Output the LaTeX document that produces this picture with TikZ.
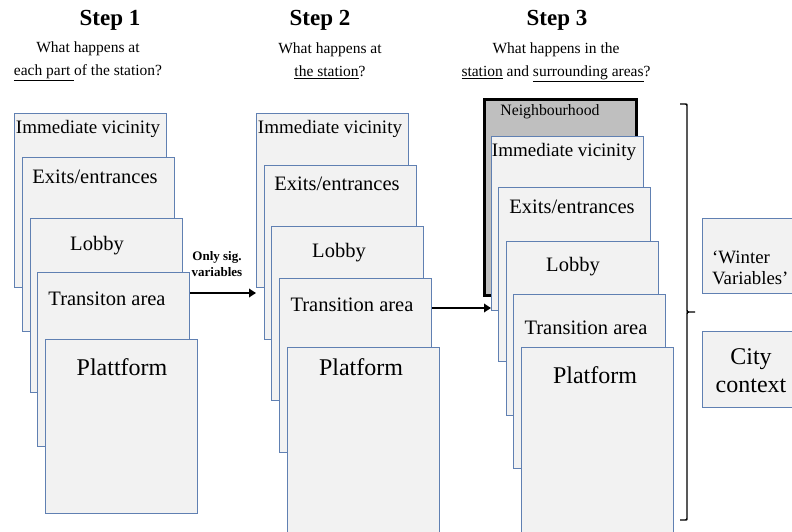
\documentclass[tikz,border=0pt]{standalone}
\usepackage{fontspec}
\setmainfont{Liberation Serif}
\usetikzlibrary{arrows.meta}
\definecolor{cardfill}{RGB}{242,242,242}
\definecolor{cardborder}{RGB}{96,128,178}
\definecolor{hoodfill}{RGB}{191,191,191}
\tikzset{
  card/.style={draw=cardborder, fill=cardfill, line width=1pt, anchor=north west,
    minimum width=152pt, minimum height=174pt, inner sep=0pt},
  hood/.style={draw=black, fill=hoodfill, line width=3pt, anchor=north west,
    minimum width=152pt, minimum height=196pt, inner sep=0pt},
  sidebox/.style={draw=cardborder, fill=cardfill, line width=1pt, anchor=north west,
    minimum width=110pt, inner sep=0pt},
  boxtext/.style={inner sep=0pt, font=\fontsize{20.5}{24}\selectfont},
  victext/.style={inner sep=0pt, font=\fontsize{19}{22}\selectfont},
  bigtext/.style={inner sep=0pt, font=\fontsize{24}{28}\selectfont},
  headtext/.style={inner sep=0pt, font=\fontsize{23}{26}\selectfont\bfseries},
  subtext/.style={inner sep=0pt, font=\fontsize{15.5}{23}\selectfont, align=center},
  smalltext/.style={inner sep=0pt, font=\fontsize{13}{16.5}\selectfont\bfseries, align=center},
  flow/.style={line width=2.7pt, -{Triangle[length=7pt,width=8.5pt]}},
  bracket/.style={line width=1.4pt, line join=round},
}
\begin{document}
\begin{tikzpicture}[x=1pt, y=-1pt]
\useasboundingbox (0,0) rectangle (792,531);
\clip (0,0) rectangle (792,531);

% headings
\node[headtext] (h1) at (110,20) {Step 1};
\node[headtext] (h2) at (320,20) {Step 2};
\node[headtext] (h3) at (557,20) {Step 3};
\node[subtext] (q1) at (88,61) {What happens at\\\underline{each part\ }of the station?};
\node[subtext] (q2) at (330,61) {What happens at\\\underline{the station}?};
\node[subtext] (q3) at (556,62) {What happens in the\\\underline{station} and \underline{surrounding areas}?};

% step 1
\node[card] (s1a) at (14,113) {};
\node[victext] (t1a) at (88,129) {Immediate vicinity};
\node[card] (s1b) at (22,157) {};
\node[boxtext] (t1b) at (95,177) {Exits/entrances};
\node[card] (s1c) at (30,218) {};
\node[boxtext] (t1c) at (97,246) {Lobby};
\node[card] (s1d) at (37,272) {};
\node[boxtext] (t1d) at (107,299) {Transiton area};
\node[card] (s1e) at (45,339) {};
\node[bigtext] (t1e) at (122,367) {Plattform};

% step 2
\node[card] (s2a) at (256,113) {};
\node[victext] (t2a) at (330,129) {Immediate vicinity};
\node[card] (s2b) at (264,165) {};
\node[boxtext] (t2b) at (337,184) {Exits/entrances};
\node[card] (s2c) at (271,226) {};
\node[boxtext] (t2c) at (339,253) {Lobby};
\node[card] (s2d) at (279,278) {};
\node[boxtext] (t2d) at (352,305) {Transition area};
\node[card, minimum height=200pt] (s2e) at (287,347) {};
\node[bigtext] (t2e) at (361,367) {Platform};

% step 3
\node[hood] (s3n) at (483,98) {};
\node[inner sep=0pt, font=\fontsize{15.8}{18}\selectfont] (t3n) at (550,112) {Neighbourhood};
\node[card] (s3a) at (491,136) {};
\node[victext] (t3a) at (564,152) {Immediate vicinity};
\node[card] (s3b) at (498,187) {};
\node[boxtext] (t3b) at (572,207) {Exits/entrances};
\node[card] (s3c) at (506,241) {};
\node[boxtext] (t3c) at (573,267) {Lobby};
\node[card] (s3d) at (513,294) {};
\node[boxtext] (t3d) at (586,328) {Transition area};
\node[card, minimum height=200pt] (s3e) at (521,347) {};
\node[bigtext] (t3e) at (595,375) {Platform};

% arrows
\coordinate (a1) at (0,293);
\coordinate (a2) at (0,308);
\draw[flow] (s1d.east |- a1) -- (s2a.west |- a1);
\node[smalltext] (lab) at (217,264) {Only sig.\\variables};
\draw[flow] (s2d.east |- a2) -- (s3a.west |- a2);

% bracket
\draw[bracket] (680,104) -- (685,104) .. controls (687,104) .. (687,106)
  -- (687,310) .. controls (687,312) .. (689,312) -- (695,312)
  (689,312) .. controls (687,312) .. (687,314)
  -- (687,518) .. controls (687,520) .. (685,520) -- (680,520);

% side boxes
\node[sidebox, minimum height=75pt] (wv) at (702,218) {};
\node[inner sep=0pt, anchor=west, align=left, font=\fontsize{18.8}{21}\selectfont] (twv) at (712,268) {`Winter\\Variables'};
\node[sidebox, minimum height=76pt] (cc) at (702,331) {};
\node[bigtext, align=center] (tcc) at (751,371) {City\\context};
\end{tikzpicture}
\end{document}
